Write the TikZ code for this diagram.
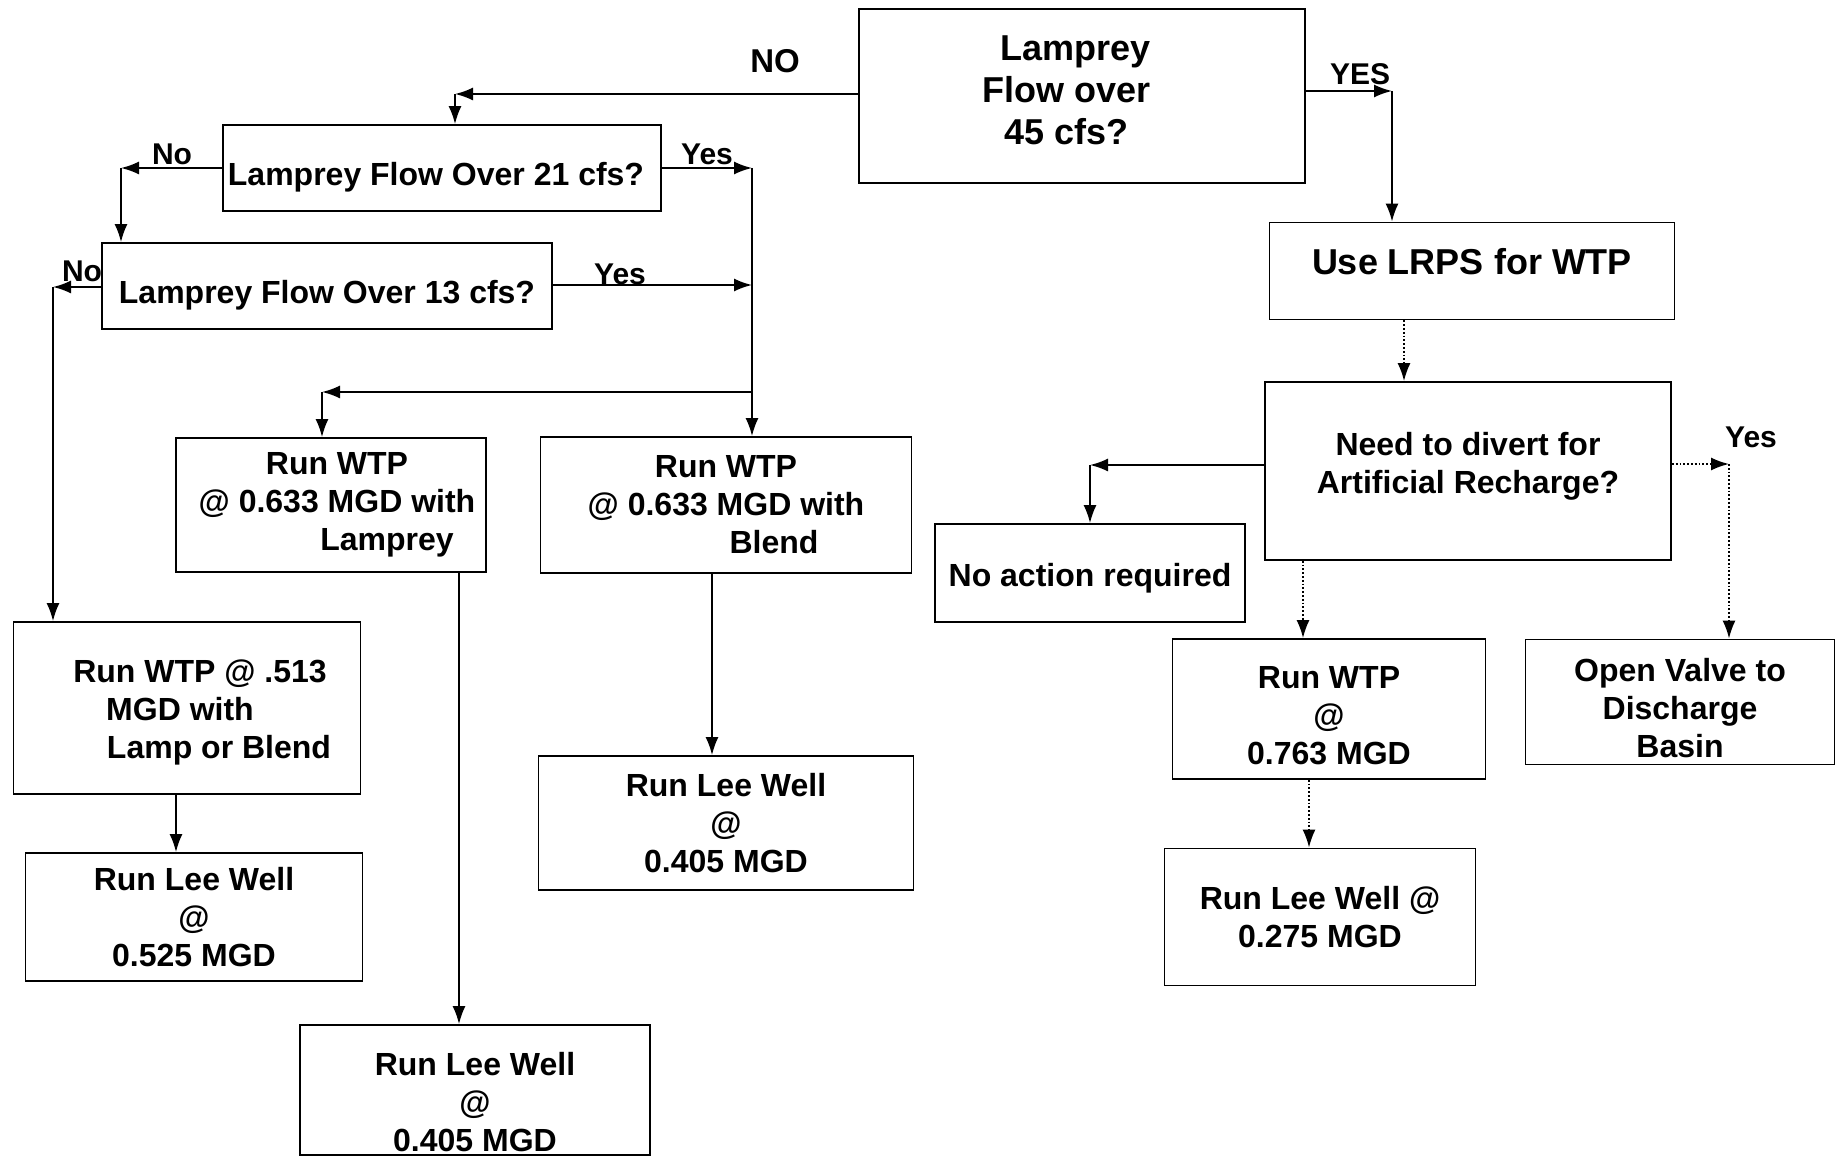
\documentclass[tikz,border=0pt]{standalone}
\usepackage{fontspec}
\setmainfont{Liberation Sans}
\usepackage{tikz}
\usetikzlibrary{arrows.meta}

\begin{document}
\begin{tikzpicture}[
    x=0.5pt,y=-0.5pt,
    box/.style={draw,line width=0.9pt,align=center,inner sep=0pt,
        font={\fontsize{16}{19}\selectfont\bfseries}},
    bigbox/.style={box,font={\fontsize{18}{21}\selectfont\bfseries}},
    lbl/.style={anchor=base,inner sep=0pt,
        font={\fontsize{15}{18}\selectfont\bfseries}},
    arr/.style={->,>={Latex[length=9pt,width=6.5pt]},line width=0.9pt},
    dots/.style={arr,densely dotted},
    ]
    \useasboundingbox (0,0) rectangle (1837,1159);
    % Decisions
    \node[bigbox,minimum width=223pt,minimum height=87pt] (q45) at (1082,96)
        {\hspace*{-6.4pt}Lamprey\\\hspace*{-15.8pt}Flow over\\\hspace*{-15.8pt}45 cfs?\rule[-6pt]{0pt}{6pt}};
    \node[box,minimum width=219pt,minimum height=43pt] (q21) at (442,168)
        {\rule{0pt}{21pt}Lamprey Flow Over 21 cfs?\hspace*{6pt}};
    \node[box,minimum width=225pt,minimum height=43pt] (q13) at (327,286)
        {\rule{0pt}{21pt}Lamprey Flow Over 13 cfs?};
    \node[bigbox,minimum width=202.5pt,minimum height=48.5pt] (lrps) at (1472,271)
        {Use LRPS for WTP\rule[-9.5pt]{0pt}{9.5pt}};
    \node[box,minimum width=203pt,minimum height=89pt] (need) at (1468,471)
        {Need to divert for\\Artificial Recharge?\rule[-8pt]{0pt}{8pt}};
    % Left branch
    \node[box,minimum width=155pt,minimum height=67pt] (wtpLamp) at (331,505)
        {\hspace*{6pt}Run WTP\\\hspace*{6pt}@ 0.633 MGD with\\\hspace*{56pt}Lamprey};
    \node[box,minimum width=185.5pt,minimum height=68pt] (wtpBlend) at (726,505)
        {Run WTP\\@ 0.633 MGD with\\\hspace*{48pt}Blend};
    \node[box,minimum width=173.5pt,minimum height=86pt] (wtp513) at (187,708)
        {\rule{0pt}{16pt}\hspace*{13pt}Run WTP @ .513\\\hspace*{-7pt}MGD with\\\hspace*{32pt}Lamp or Blend};
    \node[box,minimum width=168.5pt,minimum height=64pt] (lee525) at (194,917)
        {Run Lee Well\\@\\0.525 MGD};
    \node[box,minimum width=175pt,minimum height=65pt] (leeLamp) at (475,1090)
        {\rule{0pt}{23.4pt}Run Lee Well\\@\\0.405 MGD};
    \node[box,minimum width=187.5pt,minimum height=67pt] (leeBlend) at (726,823)
        {Run Lee Well\\@\\0.405 MGD};
    % Right branch
    \node[box,minimum width=155pt,minimum height=49pt] (noact) at (1090,573)
        {\rule{0pt}{16.4pt}No action required};
    \node[box,minimum width=156.5pt,minimum height=70pt] (wtp763) at (1329,709)
        {\rule{0pt}{17.4pt}Run WTP\\@\\0.763 MGD};
    \node[box,minimum width=154.5pt,minimum height=62.5pt] (valve) at (1680,702)
        {\rule{0pt}{17.6pt}Open Valve to\\Discharge\\Basin};
    \node[box,minimum width=155.5pt,minimum height=68.5pt] (lee275) at (1320,917)
        {Run Lee Well @\\0.275 MGD};

    % Joints
    \coordinate (nA) at (455,94);
    \coordinate (nB) at (121,168);
    \coordinate (yB) at (752,168);
    \coordinate (nC) at (53,287);
    \coordinate (yC) at (752,285);
    \coordinate (yD) at (752,392);
    \coordinate (jL) at (322,392);
    \coordinate (yA) at (1392,91);
    \coordinate (nE) at (1090,465);
    \coordinate (yE) at (1729,464);

    % NO side of the top question
    \draw[arr] (q45.west |- nA) -- (nA);
    \draw[arr] (nA) -- (nA |- q21.north);
    \draw[arr] (q21.west) -- (nB);
    \draw[arr] (nB) -- (nB |- q13.north);
    \draw[arr] (q21.east) -- (yB);
    \draw[arr] (q13.west |- nC) -- (nC);
    \draw[arr] (nC) -- (nC |- wtp513.north);
    \draw[arr] (q13.east |- yC) -- (yC);
    \draw[arr] (yB) -- (yB |- wtpBlend.north);
    \draw[arr] (yD) -- (jL);
    \draw[arr] (jL) -- (jL |- wtpLamp.north);
    \draw[arr] ([xshift=64pt]wtpLamp.south) -- ([xshift=64pt]wtpLamp.south |- leeLamp.north);
    \draw[arr] ([xshift=-7pt]wtpBlend.south) -- ([xshift=-7pt]wtpBlend.south |- leeBlend.north);
    \draw[arr] ([xshift=-5.5pt]wtp513.south) -- ([xshift=-5.5pt]wtp513.south |- lee525.north);
    % YES side of the top question
    \draw[arr] (q45.east |- yA) -- (yA);
    \draw[arr] (yA) -- (yA |- lrps.north);
    \draw[dots] ([xshift=-34pt]lrps.south) -- ([xshift=-34pt]lrps.south |- need.north);
    \draw[arr] (need.west |- nE) -- (nE);
    \draw[arr] (nE) -- (nE |- noact.north);
    \draw[dots] (need.east |- yE) -- (yE);
    \draw[dots] (yE) -- (yE |- valve.north);
    \draw[dots] ([xshift=-82.5pt]need.south) -- ([xshift=-82.5pt]need.south |- wtp763.north);
    \draw[dots] ([xshift=-10pt]wtp763.south) -- ([xshift=-10pt]wtp763.south |- lee275.north);

    % Answers
    \node[lbl,font={\fontsize{16.5}{19}\selectfont\bfseries}] (lNO) at (775,73) {NO};
    \node[lbl] (lNoA) at (172,165) {No};
    \node[lbl] (lYesA) at (707,165) {Yes};
    \node[lbl] (lNoB) at (82,282) {No};
    \node[lbl] (lYesB) at (620,285) {Yes};
    \node[lbl] (lYES) at (1360,85) {YES};
    \node[lbl] (lYesC) at (1751,448) {Yes};
\end{tikzpicture}
\end{document}
